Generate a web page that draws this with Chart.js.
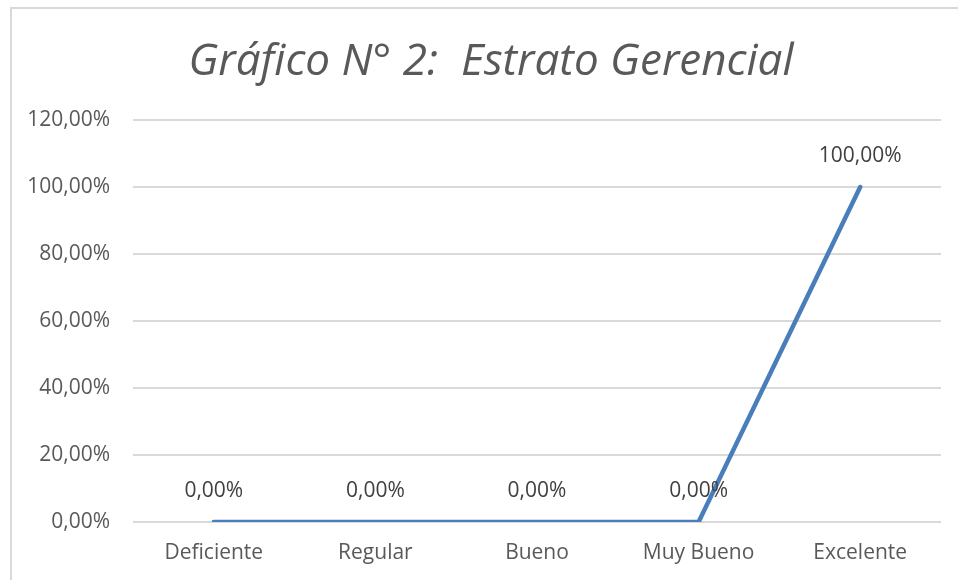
<!DOCTYPE html>
<html>
<head>
<meta charset="utf-8">
<script src="https://cdn.jsdelivr.net/npm/chart.js@4/dist/chart.umd.min.js"></script>
<style>
  body { margin: 0; background: #fff; }
  .frame { position: absolute; left: 10px; top: 7px; width: 960px; height: 590px; border-left: 2px solid #d9d9d9; border-top: 2px solid #d9d9d9; }
  .wrap { position: absolute; left: 0; top: 0; width: 958px; height: 580px; }
</style>
</head>
<body>
<div class="frame"></div>
<div class="wrap"><canvas id="lineChart" width="958" height="580"></canvas></div>
<script>
// categories and values (share of answers, %)
const categories = ['Deficiente', 'Regular', 'Bueno', 'Muy Bueno', 'Excelente'];
const values = [0, 0, 0, 0, 100];
const yTicks = [0, 20, 40, 60, 80, 100, 120];
const titleText = 'Gráfico N° 2:  Estrato Gerencial';

const pct = v => v.toFixed(2).replace('.', ',') + '%';

// Title drawn by hand so it can sit centred on the whole frame
const chartTitle = {
  id: 'chartTitle',
  afterDraw(chart) {
    const ctx = chart.ctx;
    ctx.save();
    ctx.font = 'italic 44px "Open Sans"';
    ctx.fillStyle = '#595959';
    ctx.textAlign = 'center';
    ctx.textBaseline = 'middle';
    ctx.fillText(titleText, 491, 62);
    ctx.restore();
  }
};

// Draw the value labels above each point, like Excel data labels
const valueLabels = {
  id: 'valueLabels',
  afterDatasetsDraw(chart) {
    const ctx = chart.ctx;
    const meta = chart.getDatasetMeta(0);
    ctx.save();
    ctx.font = '21px "Open Sans"';
    ctx.fillStyle = '#404040';
    ctx.textAlign = 'center';
    ctx.textBaseline = 'middle';
    meta.data.forEach((pt, i) => {
      ctx.fillText(pct(values[i]), pt.x, pt.y - 31);
    });
    ctx.restore();
  }
};

const ctx = document.getElementById('lineChart').getContext('2d');
new Chart(ctx, {
  type: 'line',
  data: {
    labels: categories,
    datasets: [{
      data: values,
      borderColor: '#4a7ebb',
      borderWidth: 4.5,
      borderCapStyle: 'round',
      borderJoinStyle: 'miter',
      pointRadius: 0,
      tension: 0,
      fill: false
    }]
  },
  options: {
    responsive: false,
    animation: false,
    layout: { padding: { left: 0, right: 17, top: 120, bottom: 0 } },
    plugins: {
      legend: { display: false },
      tooltip: { enabled: false },
      title: { display: false }
    },
    scales: {
      x: {
        offset: true,
        grid: { display: false, drawTicks: false },
        border: { display: false },
        ticks: { color: '#595959', font: { family: '"Open Sans"', size: 21 }, padding: 18, maxRotation: 0 },
        afterFit: s => { s.height = 58; }
      },
      y: {
        min: 0,
        max: 120,
        afterBuildTicks: s => { s.ticks = yTicks.map(v => ({ value: v })); },
        grid: { color: '#d9d9d9', lineWidth: 2, drawTicks: false },
        border: { display: false },
        ticks: { color: '#595959', font: { family: '"Open Sans"', size: 21 }, padding: 23, callback: v => pct(v) },
        afterFit: s => { s.width = 133; }
      }
    }
  },
  plugins: [valueLabels, chartTitle]
});
</script>
</body>
</html>
